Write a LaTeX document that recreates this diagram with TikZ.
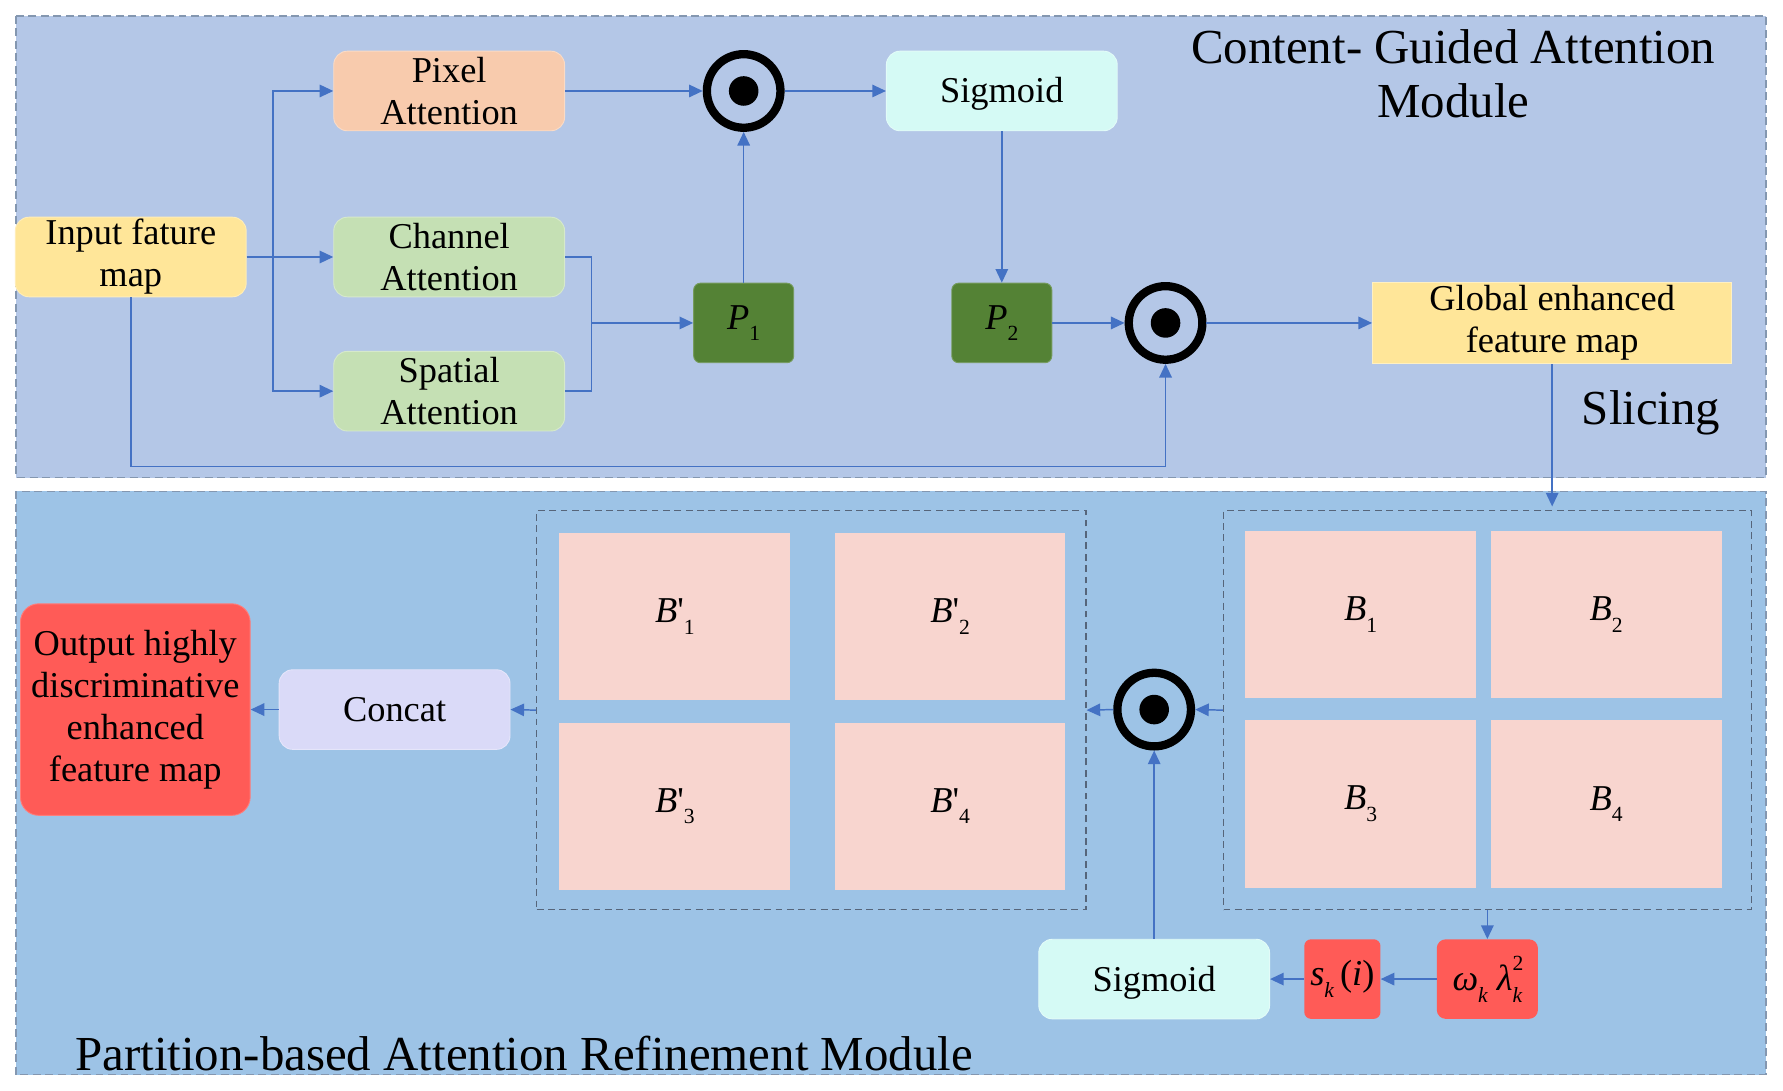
\documentclass[tikz,border=0pt]{standalone}
\usepackage{fontspec}
\setmainfont{Liberation Serif}
\usetikzlibrary{arrows.meta,calc}
\definecolor{arr}{HTML}{4472C4}
\definecolor{upbg}{HTML}{B4C7E7}
\definecolor{lowbg}{HTML}{9DC3E6}
\definecolor{yel}{HTML}{FFE699}
\definecolor{peach}{HTML}{F8CBAD}
\definecolor{grn}{HTML}{C5E0B4}
\definecolor{cyanl}{HTML}{D5FAF5}
\definecolor{dgreen}{HTML}{548235}
\definecolor{pinkb}{HTML}{F8D5CF}
\definecolor{lav}{HTML}{DADAF8}
\definecolor{redb}{HTML}{FF5B57}
\definecolor{panelborder}{HTML}{8497B0}
\definecolor{innerborder}{HTML}{56657A}
\newcommand{\sbx}[1]{\raisebox{-0.32em}{\fontsize{19}{19}\selectfont #1}}
\newcommand{\spx}[1]{\raisebox{0.55em}{\fontsize{19}{19}\selectfont #1}}
\tikzset{
  boxtxt/.style={font=\fontsize{32}{37}\selectfont, align=center, inner sep=0pt},
  rbox/.style={boxtxt, rounded corners=12pt, minimum width=203pt, minimum height=70pt, line width=0.8pt},
  oneline/.style={text height=24pt, text depth=3pt},
  gbox/.style={boxtxt, rounded corners=6pt, fill=dgreen, draw=dgreen!80!white, line width=0.8pt, minimum width=88pt, minimum height=70pt},
  pbox/.style={boxtxt, fill=pinkb, minimum width=203pt, minimum height=147pt},
  odotn/.style={circle, draw=black, line width=7.3pt, minimum size=64.7pt, inner sep=0pt},
  conn/.style={draw=arr, line width=1.3pt, -{Triangle[length=12pt,width=11pt]}},
  plain/.style={draw=arr, line width=1.3pt},
  panel/.style={draw=panelborder, line width=1.3pt, dash pattern=on 7pt off 4pt},
  innerbox/.style={draw=innerborder, line width=1pt, dash pattern=on 6pt off 4pt, minimum width=483pt, minimum height=351pt, inner sep=0pt},
  title/.style={font=\fontsize{43}{48}\selectfont, align=center, inner sep=0pt}
}
\begin{document}
\begin{tikzpicture}[x=1pt,y=-1pt]
\useasboundingbox (0,0) rectangle (1568,959);
\fill[white] (0,0) rectangle (1568,959);
% panels
\path[panel, fill=upbg] (14,14) rectangle (1553,420);
\path[panel, fill=lowbg] (14,432) rectangle (1553,945);

% upper nodes
\node[rbox, fill=yel, draw=yel!70!white] (in) at (115,226) {Input fature\\map};
\node[rbox, fill=peach, draw=peach!70!white] (px) at (395,80) {Pixel\\Attention};
\node[rbox, fill=grn, draw=grn!70!white] (ch) at (395,226) {Channel\\Attention};
\node[rbox, fill=grn, draw=grn!70!white] (sp) at (395,344) {Spatial\\Attention};
\node[odotn] (o1) at (654,80) {};
\fill (o1.center) circle (13pt);
\node[rbox, oneline, fill=cyanl, draw=cyanl!70!white] (sg1) at (881,80) {Sigmoid};
\node[gbox] (p1) at (654,284) {{\itshape P}\sbx{1}};
\node[gbox] (p2) at (881,284) {{\itshape P}\sbx{2}};
\node[odotn] (o2) at (1025,284) {};
\fill (o2.center) circle (13pt);
\node[boxtxt, fill=yel, draw=yel!60!white, line width=0.8pt, minimum width=316pt, minimum height=72pt] (gl) at (1365,284) {Global enhanced\\feature map};
\node[title] (t1) at (1278,65) {Content- Guided Attention\\Module};
\node[title] (t2) at (1452,363) {Slicing};

% upper connectors
\coordinate (br) at (240,226);
\coordinate (mg) at (520,284);
\draw[conn] (in.east) -- (ch.west);
\draw[conn] (br) |- (px.west);
\draw[conn] (br) |- (sp.west);
\draw[conn] (px.east) -- (o1.west);
\draw[conn] (o1.east) -- (sg1.west);
\draw[plain] (ch.east) -| (mg);
\draw[plain] (sp.east) -| (mg);
\draw[conn] (mg) -- (p1.west);
\draw[conn] (p1.north) -- (o1.south);
\draw[conn] (sg1.south) -- (p2.north);
\draw[conn] (p2.east) -- (o2.west);
\draw[conn] (o2.east) -- (gl.west);
\draw[conn] (in.south) -- ++(0,149) -| (o2.south);

% lower nodes
\node[innerbox] (lb) at (713.5,624.5) {};
\node[innerbox, minimum width=464pt] (rb) at (1308,624.5) {};
\node[pbox] (bp1) at (593.5,542) {{\itshape B}\textquotesingle\sbx{1}};
\node[pbox] (bp2) at (835.5,542) {{\itshape B}\textquotesingle\sbx{2}};
\node[pbox] (bp3) at (593.5,709) {{\itshape B}\textquotesingle\sbx{3}};
\node[pbox] (bp4) at (835.5,709) {{\itshape B}\textquotesingle\sbx{4}};
\node[pbox] (b1) at (1196.5,540.5) {{\itshape B}\sbx{1}};
\node[pbox] (b2) at (1412.5,540.5) {{\itshape B}\sbx{2}};
\node[pbox] (b3) at (1196.5,707) {{\itshape B}\sbx{3}};
\node[pbox] (b4) at (1412.5,707) {{\itshape B}\sbx{4}};
\node[odotn] (o3) at (1015,624) {};
\fill (o3.center) circle (13pt);
\node[rbox, oneline, fill=lav, draw=lav!70!white] (cc) at (347,624) {Concat};
\node[rbox, fill=redb, draw=redb!80!white, minimum width=202pt, minimum height=186pt, rounded corners=16pt] (out) at (119,624) {Output highly\\discriminative\\enhanced\\feature map};
\node[rbox, oneline, fill=cyanl, draw=cyanl!70!white] (sg2) at (1015,861) {Sigmoid};
\node[boxtxt, fill=redb, rounded corners=6pt, minimum width=67pt, minimum height=70pt] (sk) at (1180.5,861) {{\itshape s}\sbx{\itshape k}\,({\itshape i})};
\node[boxtxt, fill=redb, rounded corners=8pt, minimum width=89pt, minimum height=70pt] (om) at (1308,861) {{\itshape ω}\sbx{\itshape k}\hspace{8pt}{\itshape λ}\rlap{\spx{2}}\sbx{\itshape k}};
\node[title, anchor=base west] (t3) at (66,941) {Partition-based Attention Refinement Module};

% lower connectors
\draw[conn] (gl.south) -- ++(0,125);
\draw[conn] (rb.west) -- (o3.east);
\draw[conn] (o3.west) -- (lb.east);
\draw[conn] (lb.west) -- (cc.east);
\draw[conn] (cc.west) -- (out.east);
\draw[conn] (rb.south) -- (om.north);
\draw[conn] (om.west) -- (sk.east);
\draw[conn] (sk.west) -- (sg2.east);
\draw[conn] (sg2.north) -- (o3.south);
\end{tikzpicture}
\end{document}
